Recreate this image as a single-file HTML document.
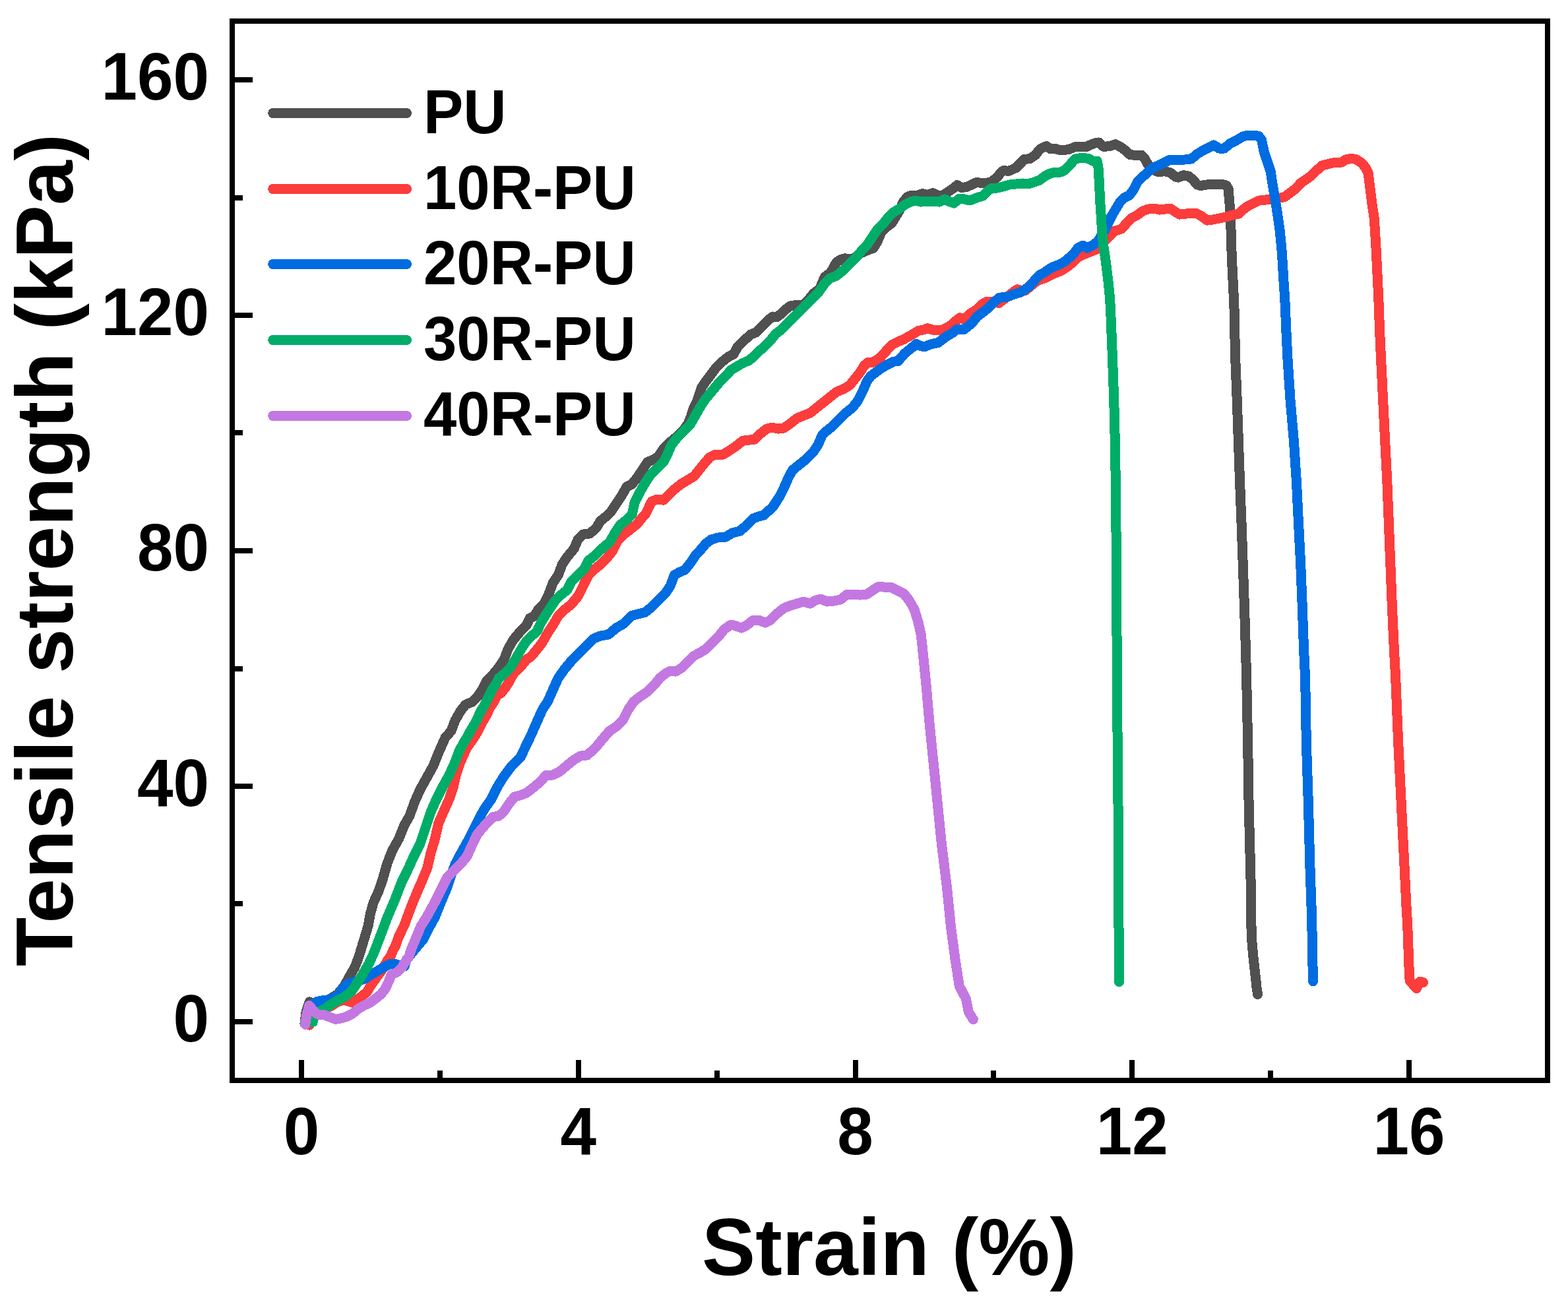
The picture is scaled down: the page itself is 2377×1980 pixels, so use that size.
<!DOCTYPE html>
<html lang="en">
<head>
<meta charset="utf-8">
<title>Tensile strength vs strain</title>
<style>
html,body{margin:0;padding:0;background:#fff;}
body{width:2377px;height:1980px;overflow:hidden;}
svg{display:block;}
text{font-family:"Liberation Sans",sans-serif;font-weight:bold;fill:#000;}
.tick{font-size:98px;}
.leg{font-size:90.5px;}
.title{font-size:121.7px;}
.curve{fill:none;stroke-linecap:round;stroke-linejoin:round;stroke-width:15.0;shape-rendering:crispEdges;}
</style>
</head>
<body>
<svg xmlns="http://www.w3.org/2000/svg" width="2377" height="1980" viewBox="0 0 2377 1980">
<rect x="0" y="0" width="2377" height="1980" fill="#ffffff"/>
<g id="curves">
<path class="curve" stroke="#505050" d="M461.9,1552.3 L464.0,1534.3 L469.2,1518.9 L476.0,1522.3 L484.6,1519.8 L500.0,1514.6 L511.2,1507.7 L517.2,1500.9 L522.3,1494.0 L526.6,1486.3 L530.9,1478.6 L537.8,1466.6 L542.5,1454.6 L546.8,1441.3 L548.0,1437.2 L553.2,1420.1 L558.3,1402.9 L561.3,1385.8 L566.0,1368.6 L573.8,1351.5 L579.8,1334.3 L587.0,1309.1 L594.8,1289.3 L604.8,1271.3 L612.8,1251.3 L620.8,1237.3 L628.8,1215.2 L636.8,1197.2 L646.8,1179.2 L656.8,1161.2 L664.8,1141.2 L672.8,1123.2 L675.0,1118.2 L684.0,1108.2 L690.0,1092.1 L698.0,1078.1 L706.0,1068.1 L716.0,1064.1 L724.0,1056.1 L732.0,1044.1 L738.0,1032.1 L746.1,1024.1 L756.1,1012.1 L764.1,1000.1 L770.1,984.1 L778.1,970.1 L788.1,958.1 L798.1,948.1 L803.1,937.1 L810.1,934.1 L816.1,924.1 L824.1,916.1 L832.1,900.1 L838.1,884.0 L846.1,872.0 L852.1,856.0 L860.1,844.0 L870.1,832.0 L876.1,818.0 L884.1,810.0 L894.1,809.0 L904.1,800.0 L910.1,790.0 L920.1,782.0 L926.0,776.2 L934.0,764.2 L942.0,752.1 L950.0,738.1 L958.0,734.1 L966.0,724.1 L974.0,712.1 L982.0,700.1 L990.0,697.1 L998.0,692.1 L1006.1,680.1 L1016.1,670.1 L1025.9,662.1 L1036.1,652.1 L1043.3,642.1 L1047.3,632.1 L1051.3,618.7 L1057.3,606.7 L1062.9,589.1 L1067.9,580.9 L1076.1,570.1 L1085.1,558.1 L1095.1,548.1 L1104.1,541.0 L1112.1,537.0 L1118.1,526.0 L1128.1,516.0 L1138.1,507.0 L1146.1,504.0 L1156.1,494.0 L1165.1,485.0 L1171.1,480.0 L1177.1,481.0 L1184.1,476.0 L1191.1,469.0 L1198.1,464.0 L1203.1,463.0 L1218.6,462.0 L1225.4,455.0 L1233.4,444.8 L1242.4,438.1 L1247.0,427.7 L1250.4,419.7 L1258.4,414.1 L1264.2,404.9 L1267.6,398.1 L1274.4,393.5 L1281.0,391.7 L1287.0,393.1 L1294.0,392.1 L1304.0,384.1 L1315.1,379.5 L1324.1,376.1 L1330.1,366.1 L1336.1,352.1 L1344.1,344.1 L1352.1,338.1 L1358.1,328.1 L1364.1,318.1 L1369.1,306.1 L1375.1,299.0 L1380.1,296.6 L1390.1,296.6 L1398.1,293.6 L1406.1,295.6 L1414.1,292.6 L1422.1,296.6 L1428.1,297.0 L1438.1,290.4 L1446.1,285.0 L1451.1,280.6 L1458.1,284.6 L1466.1,283.2 L1474.1,279.4 L1480.1,276.6 L1490.1,277.6 L1502.1,276.4 L1512.1,268.4 L1518.2,260.4 L1521.2,258.6 L1529.2,259.4 L1540.2,254.4 L1548.2,246.4 L1552.2,241.6 L1561.2,240.6 L1570.2,234.4 L1576.2,226.4 L1581.2,223.6 L1586.2,221.6 L1592.2,225.6 L1600.2,225.6 L1608.2,228.0 L1620.0,226.6 L1630.0,222.6 L1640.0,222.4 L1646.0,223.0 L1652.0,220.0 L1660.0,217.0 L1666.0,216.0 L1673.0,222.4 L1682.0,221.6 L1691.0,218.6 L1699.0,223.0 L1707.1,229.0 L1713.1,234.6 L1722.1,235.4 L1730.1,235.0 L1735.1,240.0 L1740.1,249.0 L1746.1,257.1 L1756.1,260.5 L1766.1,259.7 L1774.1,261.7 L1782.1,268.1 L1786.1,269.1 L1794.1,265.7 L1802.1,267.1 L1808.1,272.1 L1815.1,280.1 L1820.1,281.7 L1826.1,280.1 L1840.1,279.7 L1852.1,279.3 L1859.1,281.1 L1862.1,286.1 L1862.7,294.1 L1864.1,310.1 L1865.1,330.1 L1866.1,350.1 L1866.7,370.1 L1867.3,390.1 L1868.3,410.1 L1869.3,430.1 L1870.3,450.1 L1871.1,470.2 L1871.7,500.0 L1872.7,542.9 L1875.2,605.8 L1877.4,668.7 L1879.6,731.6 L1882.1,794.5 L1884.3,857.4 L1886.5,920.3 L1888.4,983.1 L1889.7,1030.0 L1891.6,1124.3 L1893.1,1218.7 L1894.7,1281.6 L1896.3,1344.5 L1896.9,1407.4 L1896.9,1400.0 L1897.6,1424.3 L1899.7,1448.6 L1902.4,1472.9 L1905.0,1497.1 L1906.6,1507.7"/>
<path class="curve" stroke="#fd3c3c" d="M469.2,1554.1 L472.6,1546.3 L480.3,1538.6 L488.0,1533.0 L497.4,1527.2 L504.2,1523.8 L511.1,1519.5 L519.8,1516.3 L526.6,1517.6 L534.3,1520.2 L542.9,1514.6 L555.5,1504.7 L565.8,1488.8 L579.5,1469.9 L587.8,1455.5 L592.4,1449.3 L596.1,1440.0 L599.2,1434.9 L604.5,1420.0 L612.8,1402.9 L619.0,1386.0 L625.6,1368.6 L633.0,1351.0 L640.2,1334.3 L647.8,1315.7 L652.8,1294.1 L658.8,1274.1 L664.8,1248.1 L673.2,1228.9 L681.2,1210.8 L687.1,1193.6 L690.9,1176.0 L697.1,1157.4 L703.7,1142.4 L707.9,1133.4 L713.9,1124.9 L719.9,1116.3 L725.0,1107.7 L729.3,1099.1 L733.6,1090.6 L738.7,1082.0 L742.2,1073.4 L748.2,1064.8 L753.3,1054.5 L760.2,1050.3 L766.2,1042.5 L772.2,1033.1 L776.5,1024.5 L780.8,1018.5 L787.6,1012.5 L793.6,1005.7 L797.9,999.7 L804.1,996.1 L812.1,987.1 L822.1,974.1 L830.1,960.1 L838.1,948.1 L846.1,934.1 L856.1,924.1 L866.1,916.1 L876.1,904.1 L884.1,888.1 L892.1,872.0 L900.1,864.0 L910.1,856.0 L920.1,846.0 L928.1,836.0 L936.1,820.0 L946.1,810.0 L956.2,802.0 L966.2,794.0 L974.2,784.0 L978.2,780.0 L988.0,760.2 L996.0,757.2 L1006.1,758.2 L1014.1,750.1 L1022.1,742.1 L1032.1,734.1 L1042.1,728.1 L1052.1,722.1 L1060.1,712.1 L1068.1,702.1 L1076.1,693.1 L1084.1,689.1 L1096.1,689.1 L1106.1,683.1 L1116.1,676.1 L1126.1,668.1 L1136.1,667.1 L1144.1,666.1 L1152.1,658.1 L1162.1,650.1 L1170.1,648.1 L1180.1,650.1 L1188.1,649.1 L1198.1,642.1 L1208.1,634.1 L1218.2,630.1 L1228.2,626.1 L1238.2,618.1 L1248.2,610.1 L1258.2,602.1 L1268.2,594.1 L1278.2,590.1 L1288.2,584.1 L1296.2,574.1 L1304.2,564.1 L1310.2,554.1 L1316.2,549.1 L1323.1,549.2 L1334.1,542.6 L1345.1,530.2 L1352.1,522.6 L1360.1,518.6 L1370.1,514.5 L1383.1,507.1 L1392.1,501.5 L1401.1,499.7 L1406.1,497.7 L1416.1,500.7 L1427.1,500.7 L1439.1,495.1 L1450.1,485.5 L1455.1,481.7 L1461.1,484.1 L1472.1,474.5 L1482.1,468.5 L1490.1,460.5 L1496.1,457.5 L1505.1,457.7 L1514.1,459.5 L1524.2,452.1 L1536.2,442.7 L1542.2,438.7 L1549.2,440.7 L1554.2,440.7 L1563.2,433.1 L1573.2,425.1 L1586.2,420.7 L1597.2,415.1 L1608.2,410.7 L1617.2,405.1 L1626.0,398.1 L1634.0,390.1 L1642.0,386.1 L1652.0,382.1 L1662.0,378.1 L1680.0,360.1 L1690.0,350.1 L1700.0,347.1 L1708.1,338.1 L1716.1,330.1 L1724.1,326.1 L1732.1,320.1 L1740.1,317.1 L1750.1,316.1 L1758.1,318.1 L1766.1,317.1 L1774.1,316.1 L1780.1,320.1 L1788.1,325.1 L1796.1,324.1 L1806.1,323.7 L1814.1,323.7 L1822.1,328.1 L1830.1,334.1 L1838.1,333.1 L1848.1,331.1 L1858.1,329.1 L1868.1,326.1 L1878.1,324.1 L1884.1,318.1 L1892.1,312.1 L1900.1,308.1 L1908.1,304.1 L1918.2,303.1 L1928.2,301.7 L1940.2,300.1 L1948.2,298.1 L1956.2,292.1 L1964.2,286.1 L1972.2,277.1 L1980.2,272.1 L1988.2,266.1 L1996.2,258.1 L2004.2,251.0 L2012.2,249.0 L2020.0,247.0 L2028.0,246.4 L2034.0,246.0 L2040.0,242.0 L2048.1,240.4 L2056.1,241.6 L2064.1,247.0 L2070.1,254.0 L2074.1,262.1 L2076.1,278.1 L2078.1,294.1 L2080.1,310.1 L2083.1,330.1 L2084.5,350.1 L2085.7,370.1 L2086.7,390.1 L2087.7,410.1 L2088.7,430.1 L2089.7,450.1 L2090.5,470.2 L2091.5,500.0 L2093.5,542.9 L2096.6,605.8 L2099.7,668.7 L2102.9,731.6 L2105.4,794.5 L2107.9,857.4 L2110.4,920.3 L2113.3,983.1 L2115.8,1030.0 L2119.6,1124.3 L2124.3,1218.7 L2129.0,1313.0 L2132.1,1375.9 L2133.6,1400.0 L2134.8,1432.4 L2135.7,1456.7 L2136.5,1481.0 L2137.5,1487.4 L2147.4,1498.4 L2152.7,1488.2 L2157.6,1489.4"/>
<path class="curve" stroke="#006ce1" d="M464.9,1542.9 L465.7,1534.3 L470.9,1524.9 L476.9,1520.6 L481.2,1518.5 L488.0,1516.9 L495.7,1516.3 L504.3,1513.7 L511.2,1509.5 L517.2,1502.2 L522.3,1495.3 L527.5,1491.5 L534.3,1489.3 L542.9,1486.7 L551.5,1484.6 L560.1,1479.4 L568.6,1474.1 L577.2,1469.2 L585.8,1464.2 L591.8,1461.6 L598.6,1461.3 L605.5,1463.6 L613.2,1464.9 L615.4,1456.4 L628.0,1440.2 L641.4,1424.3 L649.4,1408.3 L659.4,1390.3 L667.4,1370.3 L677.4,1346.3 L683.4,1328.3 L690.1,1310.1 L698.7,1293.9 L708.7,1275.9 L718.7,1255.9 L726.7,1239.9 L734.7,1225.9 L744.7,1211.8 L754.7,1191.8 L764.7,1175.8 L775.5,1161.4 L789.5,1147.4 L796.7,1131.8 L800.7,1123.8 L806.1,1112.2 L814.1,1094.1 L822.1,1076.1 L830.1,1064.1 L838.1,1046.1 L846.1,1028.1 L856.1,1014.1 L866.1,1002.1 L878.1,990.1 L890.1,978.1 L900.1,968.1 L910.1,964.1 L922.1,962.1 L934.1,952.1 L946.1,945.1 L958.2,933.1 L966.2,931.1 L978.2,928.1 L988.2,920.1 L998.2,910.1 L1008.2,900.1 L1016.2,888.1 L1022.2,872.0 L1030.2,867.4 L1038.2,864.0 L1046.2,854.0 L1054.2,842.0 L1060.0,836.0 L1070.0,824.1 L1078.0,818.1 L1088.0,815.1 L1100.0,814.1 L1110.0,808.1 L1122.0,805.1 L1132.0,796.0 L1142.0,786.0 L1150.1,783.0 L1158.1,781.0 L1171.7,768.2 L1181.1,754.1 L1189.1,738.1 L1196.1,722.1 L1202.1,712.1 L1212.1,704.1 L1222.2,696.1 L1232.2,686.1 L1240.2,674.1 L1246.2,660.1 L1252.2,654.1 L1262.2,646.1 L1272.2,636.1 L1282.2,626.1 L1292.2,618.1 L1300.2,608.1 L1308.2,592.1 L1314.2,578.1 L1320.0,570.1 L1333.9,559.6 L1345.3,552.8 L1354.5,548.2 L1361.3,547.6 L1371.1,536.2 L1381.1,528.2 L1389.1,521.2 L1393.1,523.8 L1401.1,525.8 L1412.1,521.6 L1422.1,519.6 L1434.1,510.5 L1444.1,504.5 L1451.1,499.1 L1461.1,499.7 L1473.1,490.1 L1481.1,480.1 L1489.1,474.1 L1499.1,466.1 L1509.1,456.1 L1515.2,451.1 L1525.2,450.7 L1536.2,446.5 L1547.2,443.1 L1560.2,434.5 L1569.2,424.1 L1576.2,416.7 L1583.2,413.1 L1593.2,406.1 L1603.2,402.1 L1613.2,397.1 L1620.0,391.5 L1628.0,384.1 L1634.0,376.1 L1642.0,372.1 L1648.0,376.1 L1656.0,372.1 L1664.0,366.1 L1674.0,350.1 L1680.0,338.1 L1686.0,326.1 L1692.0,316.1 L1698.0,306.1 L1704.0,300.1 L1712.1,296.1 L1718.1,288.1 L1724.1,276.1 L1732.1,268.1 L1740.1,261.1 L1748.1,254.0 L1758.1,250.0 L1766.1,246.0 L1774.1,242.0 L1780.1,242.0 L1786.1,243.0 L1796.1,242.0 L1806.1,241.0 L1814.1,234.0 L1822.1,229.0 L1830.1,225.0 L1840.1,220.0 L1848.1,225.0 L1856.1,225.0 L1864.1,218.0 L1874.1,213.0 L1884.1,207.0 L1892.1,205.0 L1900.1,205.0 L1908.1,206.4 L1912.5,212.0 L1916.2,230.0 L1921.2,245.0 L1926.2,260.1 L1929.2,280.1 L1932.6,300.1 L1936.2,322.1 L1940.2,350.1 L1942.6,374.1 L1943.8,390.1 L1945.0,410.1 L1946.2,430.1 L1947.6,450.1 L1948.6,470.2 L1949.8,500.0 L1951.9,542.9 L1956.0,605.8 L1961.4,668.7 L1965.5,731.6 L1968.6,794.5 L1971.8,857.4 L1974.3,920.3 L1976.5,983.1 L1978.7,1030.0 L1980.3,1124.3 L1983.4,1218.7 L1985.9,1313.0 L1988.1,1375.9 L1989.7,1438.8 L1989.2,1432.4 L1990.0,1464.8 L1990.5,1487.9"/>
<path class="curve" stroke="#00ad68" d="M462.3,1548.5 L468.3,1549.8 L474.3,1549.3 L476.0,1541.2 L480.3,1535.2 L485.5,1533.0 L491.5,1530.5 L500.0,1524.0 L508.6,1518.9 L517.2,1514.2 L525.8,1509.0 L533.5,1502.2 L542.0,1489.7 L549.8,1477.3 L559.2,1461.0 L566.9,1444.3 L580.0,1410.1 L587.0,1391.1 L599.0,1363.1 L609.0,1337.1 L617.0,1321.1 L627.0,1299.1 L637.0,1279.1 L645.0,1255.1 L653.0,1231.1 L661.0,1213.0 L671.0,1193.0 L681.0,1175.0 L689.1,1157.0 L695.1,1141.0 L697.6,1135.8 L702.7,1126.4 L707.9,1117.8 L713.0,1108.4 L718.2,1099.8 L723.3,1090.4 L726.7,1082.7 L730.2,1075.8 L734.5,1069.0 L738.7,1060.4 L743.0,1051.8 L746.5,1044.9 L751.6,1037.2 L755.9,1028.6 L761.0,1024.4 L767.0,1019.2 L773.1,1013.2 L777.3,1006.3 L782.1,998.1 L790.1,984.1 L798.1,972.1 L806.1,964.1 L814.1,957.1 L820.1,944.1 L826.1,934.1 L834.1,922.1 L842.1,910.1 L850.1,902.1 L860.1,894.1 L866.1,882.0 L876.1,872.0 L886.1,862.0 L892.1,850.0 L902.1,842.0 L912.1,832.0 L924.1,822.0 L932.1,808.0 L940.1,796.0 L950.1,788.0 L958.2,780.0 L962.0,762.2 L970.0,746.1 L978.0,732.1 L986.0,720.1 L996.0,710.1 L1006.1,700.1 L1012.1,688.1 L1018.1,674.1 L1026.1,664.1 L1036.1,654.1 L1046.1,644.1 L1054.1,630.1 L1062.1,616.1 L1070.1,604.1 L1080.1,592.1 L1090.1,580.1 L1100.1,570.1 L1108.1,561.1 L1118.1,555.1 L1126.1,550.5 L1136.1,546.1 L1144.1,539.0 L1150.1,533.0 L1158.1,526.0 L1168.1,516.0 L1176.1,506.0 L1184.1,500.0 L1194.1,490.0 L1204.1,480.0 L1214.1,470.0 L1224.2,460.0 L1232.2,452.0 L1240.2,444.0 L1250.0,430.1 L1258.0,422.1 L1268.0,418.1 L1278.0,410.1 L1288.0,400.1 L1298.0,390.1 L1306.1,380.1 L1314.1,372.1 L1322.1,360.1 L1330.1,348.1 L1338.1,340.1 L1346.1,330.1 L1354.1,322.1 L1364.1,316.1 L1372.1,310.1 L1380.1,306.1 L1388.1,304.0 L1396.1,306.1 L1404.1,305.1 L1414.1,305.1 L1424.1,306.1 L1432.1,302.0 L1440.1,306.1 L1446.1,308.1 L1454.1,301.0 L1462.1,302.0 L1470.1,304.0 L1480.1,300.0 L1490.1,297.0 L1498.1,289.0 L1504.1,285.0 L1512.1,285.0 L1520.2,283.0 L1530.2,280.0 L1540.2,279.0 L1550.2,278.0 L1558.2,279.0 L1568.2,276.0 L1576.2,273.0 L1584.2,267.0 L1592.2,263.0 L1600.2,261.0 L1608.2,261.0 L1614.2,258.0 L1620.0,252.0 L1630.0,241.0 L1640.0,239.2 L1650.0,240.4 L1657.0,244.4 L1663.0,244.0 L1665.0,254.0 L1666.0,270.1 L1667.0,290.1 L1668.0,310.1 L1669.4,330.1 L1670.6,350.1 L1672.4,370.1 L1675.4,390.1 L1678.0,410.1 L1680.4,430.1 L1682.4,450.1 L1683.6,470.2 L1684.8,500.0 L1686.5,542.9 L1688.7,605.8 L1690.3,668.7 L1691.3,731.6 L1691.9,794.5 L1692.5,857.4 L1692.8,920.3 L1693.1,983.1 L1693.5,1030.0 L1694.1,1124.3 L1695.0,1218.7 L1695.7,1313.0 L1696.0,1407.4 L1696.6,1488.5"/>
<path class="curve" stroke="#c378e1" d="M462.7,1553.2 L464.9,1538.6 L468.7,1524.5 L472.6,1529.2 L478.6,1536.0 L484.6,1539.0 L491.5,1538.8 L500.0,1542.0 L508.6,1545.3 L517.2,1543.8 L525.8,1541.2 L534.3,1536.9 L542.9,1529.6 L551.5,1524.5 L560.1,1520.6 L568.6,1514.6 L577.2,1507.7 L584.1,1499.2 L589.2,1488.0 L593.5,1477.7 L601.2,1474.3 L608.1,1468.3 L614.1,1458.9 L620.0,1450.3 L623.0,1440.2 L633.0,1416.1 L638.0,1404.1 L648.0,1388.1 L660.0,1366.1 L670.0,1346.1 L678.0,1330.1 L686.1,1322.1 L698.1,1310.1 L708.1,1298.1 L716.1,1280.1 L724.1,1264.1 L736.1,1250.1 L747.1,1238.7 L756.1,1237.1 L764.1,1230.1 L772.1,1218.0 L780.1,1208.0 L790.1,1205.4 L798.1,1202.0 L806.1,1196.0 L818.1,1186.0 L828.1,1175.0 L838.1,1175.0 L848.1,1170.0 L860.1,1160.0 L870.1,1152.0 L880.1,1146.0 L890.1,1145.0 L902.2,1134.0 L912.2,1122.0 L924.1,1108.2 L936.1,1100.2 L944.1,1092.1 L952.1,1076.1 L960.2,1064.1 L970.2,1056.1 L982.2,1048.1 L992.2,1038.1 L1000.2,1028.1 L1010.2,1020.1 L1016.2,1017.1 L1024.2,1018.1 L1034.2,1012.1 L1044.2,1002.1 L1052.2,994.1 L1060.0,990.1 L1070.0,984.1 L1080.0,974.1 L1090.0,964.1 L1098.0,954.1 L1108.0,947.1 L1116.0,949.1 L1124.0,952.1 L1132.0,948.1 L1142.0,940.1 L1150.1,940.1 L1160.1,944.1 L1168.1,940.1 L1178.1,930.1 L1188.1,922.1 L1198.1,918.1 L1208.1,915.1 L1218.1,912.1 L1228.1,915.1 L1236.1,910.1 L1244.1,908.1 L1254.1,912.1 L1264.1,911.1 L1274.1,909.1 L1284.1,901.1 L1294.1,901.1 L1304.1,902.1 L1314.1,901.1 L1324.1,894.1 L1332.1,889.1 L1340.1,890.1 L1350.1,890.1 L1360.2,895.1 L1370.2,900.1 L1378.2,910.1 L1386.2,924.1 L1392.2,944.1 L1396.2,962.1 L1398.2,980.1 L1400.2,1000.1 L1402.2,1020.2 L1404.2,1040.2 L1408.7,1092.9 L1415.0,1155.7 L1421.3,1218.6 L1427.6,1281.4 L1435.4,1344.3 L1441.7,1407.1 L1448.0,1454.3 L1454.3,1495.1 L1464.3,1514.0 L1468.4,1534.4 L1475.3,1545.4"/>
</g>
<g id="axes" stroke="#000" stroke-width="8" fill="none" stroke-linecap="butt">
<rect x="352" y="32" width="1994" height="1606"/>
<line x1="457.0" y1="1634" x2="457.0" y2="1607"/>
<line x1="877.0" y1="1634" x2="877.0" y2="1607"/>
<line x1="1297.0" y1="1634" x2="1297.0" y2="1607"/>
<line x1="1716.0" y1="1634" x2="1716.0" y2="1607"/>
<line x1="2136.0" y1="1634" x2="2136.0" y2="1607"/>
<line x1="667.0" y1="1634" x2="667.0" y2="1623"/>
<line x1="1087.0" y1="1634" x2="1087.0" y2="1623"/>
<line x1="1506.0" y1="1634" x2="1506.0" y2="1623"/>
<line x1="1926.0" y1="1634" x2="1926.0" y2="1623"/>
<line x1="356" y1="1549.0" x2="383" y2="1549.0"/>
<line x1="356" y1="1192.0" x2="383" y2="1192.0"/>
<line x1="356" y1="835.0" x2="383" y2="835.0"/>
<line x1="356" y1="478.0" x2="383" y2="478.0"/>
<line x1="356" y1="121.0" x2="383" y2="121.0"/>
<line x1="356" y1="1370.0" x2="368" y2="1370.0"/>
<line x1="356" y1="1014.0" x2="368" y2="1014.0"/>
<line x1="356" y1="656.0" x2="368" y2="656.0"/>
<line x1="356" y1="300.0" x2="368" y2="300.0"/>
</g>
<g id="xticks" class="tick" text-anchor="middle">
<text transform="translate(457.0,1750) scale(1,1.04)">0</text>
<text transform="translate(876.8,1750) scale(1,1.04)">4</text>
<text transform="translate(1296.5,1750) scale(1,1.04)">8</text>
<text transform="translate(1716.2,1750) scale(1,1.04)">12</text>
<text transform="translate(2136.0,1750) scale(1,1.04)">16</text>
</g>
<g id="yticks" class="tick" text-anchor="end">
<text transform="translate(317,1579.2) scale(1,1.04)">0</text>
<text transform="translate(317,1222.2) scale(1,1.04)">40</text>
<text transform="translate(317,865.2) scale(1,1.04)">80</text>
<text transform="translate(317,508.2) scale(1,1.04)">120</text>
<text transform="translate(317,151.2) scale(1,1.04)">160</text>
</g>
<text class="title" text-anchor="middle" x="1348" y="1932.5">Strain (%)</text>
<text class="title" text-anchor="middle" transform="translate(109.5,834) rotate(-90)">Tensile strength (kPa)</text>
<g id="legend">
<line x1="413.7" y1="171.5" x2="616.5" y2="171.5" stroke="#505050" stroke-width="15.0" stroke-linecap="round" shape-rendering="crispEdges"/>
<text class="leg" transform="translate(642,202.0) scale(1,1.04)">PU</text>
<line x1="413.7" y1="286.5" x2="616.5" y2="286.5" stroke="#fd3c3c" stroke-width="15.0" stroke-linecap="round" shape-rendering="crispEdges"/>
<text class="leg" transform="translate(642,317.0) scale(1,1.04)">10R-PU</text>
<line x1="413.7" y1="400.5" x2="616.5" y2="400.5" stroke="#006ce1" stroke-width="15.0" stroke-linecap="round" shape-rendering="crispEdges"/>
<text class="leg" transform="translate(642,431.0) scale(1,1.04)">20R-PU</text>
<line x1="413.7" y1="515.5" x2="616.5" y2="515.5" stroke="#00ad68" stroke-width="15.0" stroke-linecap="round" shape-rendering="crispEdges"/>
<text class="leg" transform="translate(642,546.0) scale(1,1.04)">30R-PU</text>
<line x1="413.7" y1="630.5" x2="616.5" y2="630.5" stroke="#c378e1" stroke-width="15.0" stroke-linecap="round" shape-rendering="crispEdges"/>
<text class="leg" transform="translate(642,660.0) scale(1,1.04)">40R-PU</text>
</g>
</svg>
</body>
</html>
